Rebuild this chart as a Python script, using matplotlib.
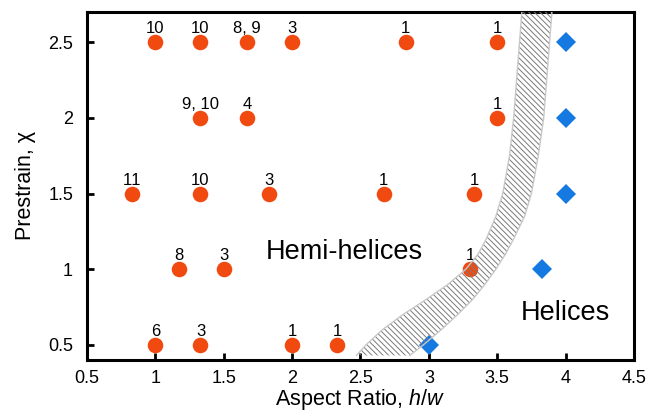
import numpy as np
import matplotlib
matplotlib.use('Agg')
import matplotlib.pyplot as plt

plt.rcParams['font.family'] = ['Liberation Sans', 'DejaVu Sans']
plt.rcParams['mathtext.fontset'] = 'custom'
plt.rcParams['mathtext.rm'] = 'Liberation Sans'
plt.rcParams['mathtext.it'] = 'Liberation Sans:italic'
plt.rcParams['hatch.linewidth'] = 0.7
plt.rcParams['text.kerning_factor'] = 6

# hemi-helices (circles): aspect ratio, prestrain, sample counts
hemi_x = [1.0, 1.33, 1.67, 2.0, 2.83, 3.5,
          1.33, 1.67, 3.5,
          0.83, 1.33, 1.83, 2.67, 3.33,
          1.17, 1.5, 3.3,
          1.0, 1.33, 2.0, 2.33]
hemi_y = [2.5, 2.5, 2.5, 2.5, 2.5, 2.5,
          2.0, 2.0, 2.0,
          1.5, 1.5, 1.5, 1.5, 1.5,
          1.0, 1.0, 1.0,
          0.5, 0.5, 0.5, 0.5]
hemi_n = ['10', '10', '8, 9', '3', '1', '1',
          '9, 10', '4', '1',
          '11', '10', '3', '1', '1',
          '8', '3', '1',
          '6', '3', '1', '1']

# helices (diamonds)
hel_x = [4.0, 4.0, 4.0, 3.83, 3.0]
hel_y = [2.5, 2.0, 1.5, 1.0, 0.5]

# transition band (hatched)
band_y = [0.43, 0.50, 0.60, 0.70, 0.80, 0.90, 1.00, 1.10, 1.20, 1.35, 1.50, 1.75, 2.00, 2.35, 2.70]
band_left = [2.47, 2.54, 2.66, 2.81, 2.98, 3.14, 3.27, 3.36, 3.42, 3.49, 3.54, 3.59, 3.62, 3.65, 3.68]
band_right = [2.86, 2.96, 3.09, 3.21, 3.32, 3.41, 3.49, 3.56, 3.62, 3.70, 3.75, 3.80, 3.84, 3.87, 3.90]

xticks = [0.5, 1, 1.5, 2, 2.5, 3, 3.5, 4, 4.5]
xtick_labels = ['0.5', '1', '1.5', '2', '2.5', '3', '3.5', '4', '4.5']
yticks = [0.5, 1, 1.5, 2, 2.5]
ytick_labels = ['0.5', '1', '1.5', '2', '2.5']

fig = plt.figure(figsize=(6.58, 4.12), dpi=100)
ax = fig.add_axes([0.1322, 0.1262, 0.8313, 0.8447])

ax.plot(hemi_x, hemi_y, 'o', color='#F04A10', markersize=11.2, markeredgewidth=0, zorder=2)
ax.plot(hel_x, hel_y, 'D', color='#1479E0', markersize=10.5, markeredgewidth=0, zorder=2)

for x, y, s in zip(hemi_x, hemi_y, hemi_n):
    ax.annotate(s, (x, y), xytext=(0, 6.5), textcoords='offset points',
                ha='center', va='baseline', fontsize=12)

ax.fill_betweenx(band_y, band_left, band_right, facecolor='none', edgecolor='#7a7a7a',
                 hatch='\\\\\\\\\\\\', linewidth=0, zorder=3)
ax.plot(band_left, band_y, color='#c8c8c8', lw=1, zorder=3)
ax.plot(band_right, band_y, color='#c8c8c8', lw=1, zorder=3)

ax.text(2.38, 1.115, 'Hemi-helices', fontsize=19.5, ha='center', va='center')
ax.text(4.0, 0.71, 'Helices', fontsize=19.5, ha='center', va='center')

ax.set_xlim(0.5, 4.5)
ax.set_ylim(0.4, 2.7)
ax.set_xticks(xticks)
ax.set_xticklabels(xtick_labels)
ax.set_yticks(yticks)
ax.set_yticklabels(ytick_labels)
ax.tick_params(direction='in', length=5, width=2, labelsize=13)
ax.tick_params(axis='x', pad=7)
ax.tick_params(axis='y', pad=10)
for sp in ax.spines.values():
    sp.set_linewidth(2.2)

ax.set_xlabel('Aspect Ratio, $h/w$', fontsize=15.5, labelpad=0)
ax.set_ylabel('Prestrain, χ', fontsize=15.5, labelpad=9)

plt.savefig('out.png', dpi=100)
